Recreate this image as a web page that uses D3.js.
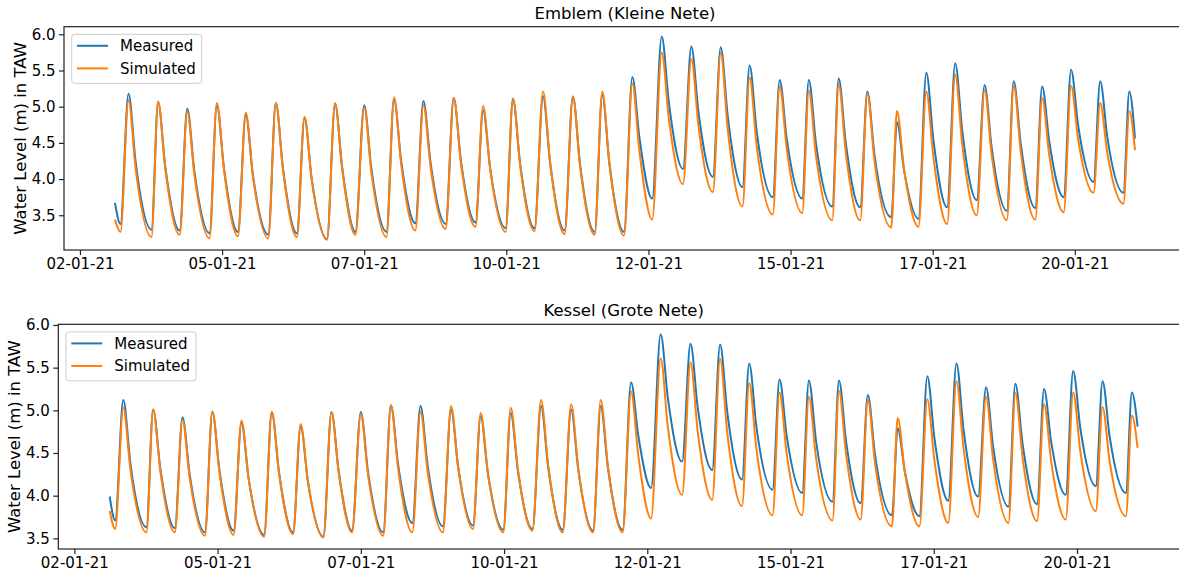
<!DOCTYPE html>
<html>
<head>
<meta charset="utf-8">
<script src="https://cdn.jsdelivr.net/npm/d3@7"></script>
<style>
  body { margin: 0; background: #fff; }
  svg { display: block; font-family: "DejaVu Sans", sans-serif; }
</style>
</head>
<body>
<svg id="chart" width="1179" height="574"></svg>
<script>
// hours after 02-01-21 00:00 of the turning points:
// start, then per tide: low water, high water, knee of the ebb (~3 h after HW), ..., end
const hours = [26.8,
  29.1, 32.5, 35.5,   42.2, 45.0, 48.0,   54.1, 57.3, 60.3,   66.7, 69.8, 72.8,
  78.7, 82.0, 85.0,   91.5, 94.7, 97.7,   103.6, 106.8, 109.8, 116.3, 119.7, 122.7,
  128.3, 132.0, 135.0, 141.4, 144.6, 147.6, 153.6, 157.0, 160.0, 166.4, 169.8, 172.8,
  179.0, 182.2, 185.2, 191.7, 194.8, 197.8, 203.9, 207.5, 210.5, 216.6, 220.1, 223.1,
  229.3, 232.5, 235.5, 241.7, 245.2, 248.2, 253.6, 257.6, 260.6, 266.6, 270.1, 273.1,
  279.2, 282.5, 285.5, 291.7, 294.7, 297.7, 304.5, 307.4, 310.4, 316.9, 319.7, 322.7,
  329.6, 332.3, 335.3, 341.4, 344.4, 347.4, 354.5, 356.9, 359.9, 366.0, 369.3, 372.3,
  378.1, 381.5, 384.5, 390.6, 393.9, 396.9, 403.3, 406.2, 409.2, 415.3, 418.2, 421.2,
  427.3, 430.4, 433.4, 439.9, 442.7, 445.7, 452.5, 455.0,
  457.4];

const emblemMeasured = [3.67,
  3.38, 5.18, 4.24,  3.30, 5.06, 4.18,  3.29, 4.97, 4.11,  3.25, 5.02, 4.15,
  3.27, 4.89, 4.06,  3.23, 5.05, 4.15,  3.25, 4.84, 4.01,  3.17, 5.04, 4.16,
  3.27, 5.02, 4.15,  3.27, 5.10, 4.25,  3.39, 5.08, 4.23,  3.38, 5.12, 4.26,
  3.40, 4.95, 4.14,  3.32, 5.11, 4.22,  3.32, 5.14, 4.22,  3.29, 5.14, 4.21,
  3.27, 5.16, 4.22,  3.27, 5.41, 4.57,  3.73, 5.97, 5.06,  4.14, 5.83, 4.93,
  4.03, 5.82, 4.86,  3.89, 5.57, 4.66,  3.75, 5.37, 4.55,  3.73, 5.37, 4.50,
  3.62, 5.39, 4.50,  3.61, 5.21, 4.34,  3.47, 4.79, 4.12,  3.45, 5.47, 4.54,
  3.61, 5.60, 4.66,  3.71, 5.30, 4.43,  3.56, 5.35, 4.48,  3.60, 5.28, 4.52,
  3.75, 5.51, 4.74,  3.96, 5.35, 4.58,  3.81, 5.21,
  4.56];

const emblemSimulated = [3.44,
  3.27, 5.09, 4.15,  3.20, 5.07, 4.15,  3.23, 4.93, 4.06,  3.18, 5.05, 4.13,
  3.21, 4.92, 4.05,  3.18, 5.05, 4.13,  3.20, 4.86, 4.01,  3.16, 5.05, 4.14,
  3.23, 4.99, 4.10,  3.20, 5.13, 4.21,  3.29, 5.02, 4.17,  3.31, 5.12, 4.23,
  3.34, 5.01, 4.14,  3.27, 5.11, 4.20,  3.28, 5.21, 4.23,  3.24, 5.14, 4.19,
  3.23, 5.21, 4.22,  3.22, 5.32, 4.38,  3.44, 5.75, 4.84,  3.93, 5.66, 4.74,
  3.82, 5.74, 4.68,  3.62, 5.40, 4.46,  3.51, 5.28, 4.41,  3.53, 5.22, 4.33,
  3.43, 5.31, 4.37,  3.43, 5.18, 4.26,  3.33, 4.94, 4.14,  3.34, 5.21, 4.30,
  3.38, 5.44, 4.47,  3.50, 5.23, 4.33,  3.43, 5.29, 4.37,  3.44, 5.12, 4.33,
  3.54, 5.29, 4.55,  3.81, 5.05, 4.36,  3.66, 4.94,
  4.40];

const kesselMeasured = [3.99,
  3.71, 5.12, 4.37,  3.63, 5.01, 4.32,  3.62, 4.92, 4.25,  3.57, 4.98, 4.29,
  3.59, 4.85, 4.20,  3.54, 4.98, 4.28,  3.57, 4.81, 4.17,  3.52, 4.98, 4.29,
  3.59, 4.98, 4.28,  3.57, 5.06, 4.37,  3.68, 5.05, 4.35,  3.64, 5.01, 4.33,
  3.65, 4.93, 4.27,  3.60, 4.97, 4.29,  3.61, 5.05, 4.33,  3.60, 5.01, 4.30,
  3.59, 5.05, 4.33,  3.60, 5.33, 4.71,  4.09, 5.89, 5.15,  4.40, 5.78, 5.04,
  4.30, 5.77, 4.98,  4.19, 5.55, 4.81,  4.07, 5.36, 4.70,  4.03, 5.35, 4.64,
  3.93, 5.35, 4.63,  3.91, 5.18, 4.48,  3.77, 4.79, 4.28,  3.76, 5.40, 4.67,
  3.94, 5.55, 4.77,  3.99, 5.27, 4.57,  3.87, 5.31, 4.61,  3.90, 5.25, 4.63,
  4.01, 5.46, 4.79,  4.11, 5.34, 4.69,  4.03, 5.21,
  4.81];

const kesselSimulated = [3.82,
  3.61, 5.03, 4.30,  3.57, 5.01, 4.29,  3.57, 4.89, 4.21,  3.53, 4.99, 4.27,
  3.54, 4.88, 4.20,  3.52, 4.98, 4.27,  3.55, 4.84, 4.18,  3.51, 4.98, 4.28,
  3.57, 4.96, 4.25,  3.53, 5.06, 4.32,  3.57, 4.98, 4.28,  3.57, 5.05, 4.33,
  3.61, 4.97, 4.27,  3.57, 5.03, 4.31,  3.59, 5.12, 4.35,  3.57, 5.07, 4.32,
  3.57, 5.12, 4.35,  3.57, 5.22, 4.48,  3.73, 5.61, 4.81,  4.01, 5.56, 4.76,
  3.95, 5.60, 4.74,  3.88, 5.32, 4.55,  3.77, 5.21, 4.49,  3.77, 5.16, 4.44,
  3.71, 5.23, 4.48,  3.72, 5.12, 4.38,  3.64, 4.91, 4.28,  3.64, 5.13, 4.41,
  3.68, 5.34, 4.55,  3.75, 5.16, 4.42,  3.68, 5.20, 4.45,  3.70, 5.07, 4.40,
  3.72, 5.21, 4.52,  3.82, 5.04, 4.40,  3.76, 4.94,
  4.56];

const xTicks = ['2021-01-02T12:00', '2021-01-05T00:00', '2021-01-07T12:00', '2021-01-10T00:00',
  '2021-01-12T12:00', '2021-01-15T00:00', '2021-01-17T12:00', '2021-01-20T00:00'];
const yTicks = [3.5, 4.0, 4.5, 5.0, 5.5, 6.0];
const seriesNames = ['Measured', 'Simulated'];
const colors = ['#1f77b4', '#ff7f0e'];

const svg = d3.select('#chart');
const t0 = Date.UTC(2021, 0, 2);
const parseTick = d3.utcParse('%Y-%m-%dT%H:%M');
const toDate = h => new Date(t0 + h * 3600e3);

// matplotlib-like 5% margin on the time axis
const hExt = d3.extent(hours);
const hPad = (hExt[1] - hExt[0]) * 0.05;

const panels = [
  { title: 'Emblem (Kleine Nete)', series: [emblemMeasured, emblemSimulated],
    left: 64, right: 1186, top: 26.7, bottom: 250, yDomain: [3.02, 6.105] },
  { title: 'Kessel (Grote Nete)', series: [kesselMeasured, kesselSimulated],
    left: 58.3, right: 1189, top: 324.3, bottom: 549, yDomain: [3.375, 6.008] }
];

panels.forEach(p => {
  const x = d3.scaleUtc()
    .domain([toDate(hExt[0] - hPad), toDate(hExt[1] + hPad)])
    .range([p.left, p.right]);
  const y = d3.scaleLinear().domain(p.yDomain).range([p.bottom, p.top]);

  const g = svg.append('g');

  const line = d3.line()
    .x(d => x(d.t))
    .y(d => y(d.v))
    .curve(d3.curveMonotoneX);

  p.series.forEach((vals, i) => {
    const pts = hours.map((h, k) => ({ t: toDate(h), v: vals[k] }));
    g.append('path')
      .datum(pts)
      .attr('d', line)
      .attr('fill', 'none')
      .attr('stroke', colors[i])
      .attr('stroke-width', 2)
      .attr('stroke-linejoin', 'round');
  });

  // spines
  g.append('rect')
    .attr('x', p.left).attr('y', p.top)
    .attr('width', p.right - p.left).attr('height', p.bottom - p.top)
    .attr('fill', 'none').attr('stroke', '#222').attr('stroke-width', 1.2);

  const xAxis = g.append('g')
    .attr('transform', `translate(0,${p.bottom})`)
    .call(d3.axisBottom(x)
      .tickValues(xTicks.map(parseTick))
      .tickFormat(d3.utcFormat('%d-%m-%y'))
      .tickSize(5).tickPadding(3).tickSizeOuter(0));

  const yAxis = g.append('g')
    .attr('transform', `translate(${p.left},0)`)
    .call(d3.axisLeft(y)
      .tickValues(yTicks)
      .tickFormat(d3.format('.1f'))
      .tickSize(5).tickPadding(3.5).tickSizeOuter(0));

  [xAxis, yAxis].forEach(a => {
    a.select('.domain').remove();
    a.selectAll('line').attr('stroke', '#222').attr('stroke-width', 1.2);
    a.selectAll('text').attr('fill', '#000').style('font-size', '15px')
      .style('font-family', '"DejaVu Sans", sans-serif');
  });

  // title
  g.append('text')
    .attr('x', (p.left + p.right) / 2)
    .attr('y', p.top - 8)
    .attr('text-anchor', 'middle')
    .style('font-size', '16.5px')
    .text(p.title);

  // y label
  g.append('text')
    .attr('transform', `translate(${p.left - 44},${(p.top + p.bottom) / 2}) rotate(-90)`)
    .attr('text-anchor', 'middle')
    .attr('dy', '0.35em')
    .style('font-size', '16.5px')
    .text('Water Level (m) in TAW');

  // legend
  const lx = p.left + 7.7, ly = p.top + 7.6;
  const lg = g.append('g').attr('transform', `translate(${lx},${ly})`);
  lg.append('rect')
    .attr('width', 130).attr('height', 49).attr('rx', 3)
    .attr('fill', '#fff').attr('fill-opacity', 0.8)
    .attr('stroke', '#ccc').attr('stroke-width', 1);
  seriesNames.forEach((name, i) => {
    const yy = 11.5 + i * 22.6;
    lg.append('line')
      .attr('x1', 5.3).attr('x2', 36.3).attr('y1', yy).attr('y2', yy)
      .attr('stroke', colors[i]).attr('stroke-width', 2);
    lg.append('text')
      .attr('x', 48.3).attr('y', yy).attr('dy', '0.35em')
      .style('font-size', '15px')
      .text(name);
  });
});
</script>
</body>
</html>
